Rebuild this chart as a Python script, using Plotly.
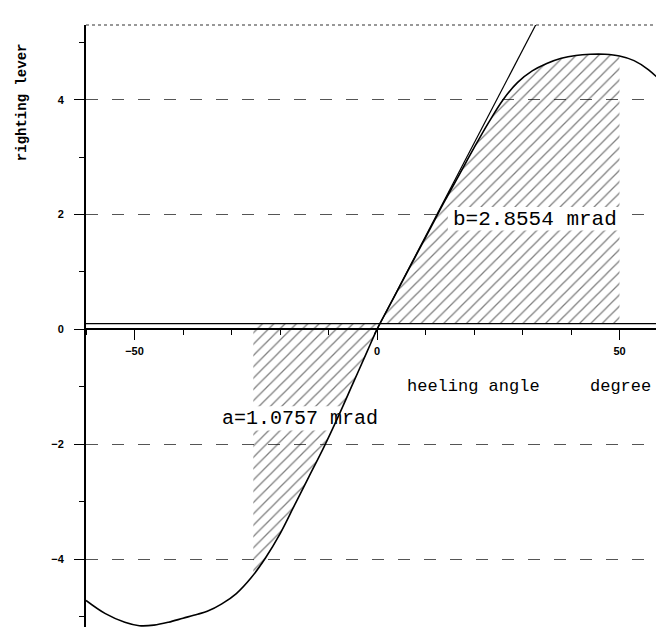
import numpy as np
import plotly.graph_objects as go

# ---- data ----
heel_angle = [-60, -56, -52, -49, -46, -43, -40, -37, -35, -32, -29, -26, -23, -20, -17, -14, -11, -8, -5, -2,
              0, 2, 5, 8, 11, 14, 17, 20, 23, 26, 29, 32, 35, 38, 41, 44, 47, 50, 53, 56, 60]
righting_lever = [-4.72, -4.95, -5.10, -5.16, -5.15, -5.10, -5.03, -4.96, -4.91, -4.78, -4.60, -4.33, -3.98,
                  -3.56, -3.06, -2.56, -2.06, -1.52, -0.95, -0.38,
                  0.0, 0.32, 0.80, 1.28, 1.76, 2.24, 2.70, 3.16, 3.60, 4.00, 4.30, 4.50, 4.63, 4.72, 4.77,
                  4.79, 4.79, 4.76, 4.68, 4.52, 4.20]
heeling_lever = 0.1          # constant heeling lever
roll_back_angle = -25.5      # left limit of area a
area_b_limit = 50            # right limit of area b
tangent_slope = 0.162        # slope of the initial tangent (per degree)
label_a = "a=1.0757 mrad"
label_b = "b=2.8554 mrad"
x_ticks = [-50, 0, 50]
y_ticks = [-4, -2, 0, 2, 4]

ang = np.array(heel_angle, float)
gz = np.array(righting_lever, float)

# equilibrium angle (curve crosses heeling lever)
mid = (ang > -15) & (ang < 15)
x_eq = float(np.interp(heeling_lever, gz[mid], ang[mid]))


def region(x0, x1):
    inside = (ang > x0) & (ang < x1)
    xs = [x0] + list(ang[inside]) + [x1]
    ys = [float(np.interp(x0, ang, gz))] + list(gz[inside]) + [float(np.interp(x1, ang, gz))]
    return xs, ys


fig = go.Figure()
pattern = dict(shape="/", fgcolor="black", bgcolor="rgba(0,0,0,0)", size=8, solidity=0.16, fillmode="overlay")

# area a
xa, ya = region(roll_back_angle, x_eq)
fig.add_trace(go.Scatter(x=xa + [x_eq, roll_back_angle], y=ya + [heeling_lever, heeling_lever],
                         fill="toself", fillcolor="rgba(0,0,0,0)", fillpattern=pattern,
                         mode="lines", line=dict(width=0), hoverinfo="skip", showlegend=False))
# area b
xb, yb = region(x_eq, area_b_limit)
fig.add_trace(go.Scatter(x=xb + [area_b_limit, x_eq], y=yb + [heeling_lever, heeling_lever],
                         fill="toself", fillcolor="rgba(0,0,0,0)", fillpattern=pattern,
                         mode="lines", line=dict(width=0), hoverinfo="skip", showlegend=False))


# white boxes behind the labels (hatching cleared)
def white_box(x0, x1, y0, y1):
    fig.add_trace(go.Scatter(x=[x0, x1, x1, x0, x0], y=[y0, y0, y1, y1, y0], fill="toself",
                             fillcolor="white", mode="lines", line=dict(width=0),
                             hoverinfo="skip", showlegend=False))


white_box(14.6, 51, 1.72, 2.13)
white_box(-27, -1.0, -1.34, -1.76)

# heeling lever line
fig.add_trace(go.Scatter(x=[-60, 60], y=[heeling_lever, heeling_lever], mode="lines",
                         line=dict(color="black", width=1.3), hoverinfo="skip", showlegend=False))
# tangent at origin
fig.add_trace(go.Scatter(x=[-0.5, 36], y=[-0.5 * tangent_slope, 36 * tangent_slope], mode="lines",
                         line=dict(color="black", width=1.2), hoverinfo="skip", showlegend=False))
# righting lever curve
fig.add_trace(go.Scatter(x=heel_angle, y=righting_lever, mode="lines", line_shape="spline",
                         line=dict(color="black", width=1.6), showlegend=False))

mono = "Liberation Mono, Courier New, monospace"
ann = [
    dict(x=32.5, y=1.92, text=label_b, font=dict(family=mono, size=21, color="black")),
    dict(x=-15.8, y=-1.55, text=label_a, font=dict(family=mono, size=20, color="black")),
    dict(x=19.8, y=-1.0, text="heeling angle", font=dict(family=mono, size=17, color="black")),
    dict(x=50.3, y=-1.0, text="degree", font=dict(family=mono, size=17, color="black")),
]
for a in ann:
    fig.add_annotation(xref="x", yref="y", showarrow=False, **a)
fig.add_annotation(xref="paper", yref="paper", x=-0.11, y=0.872, xanchor="center", yanchor="middle",
                   text="righting lever", textangle=-90, showarrow=False,
                   font=dict(family=mono, size=14, color="black", weight="bold"))

ymin, ymax = -5.2, 5.3
tickfont = dict(family="Liberation Sans, Arial, sans-serif", size=11, color="black", weight="bold")
fig.update_layout(
    width=664, height=627, margin=dict(l=78, r=4, t=17, b=7),
    paper_bgcolor="white", plot_bgcolor="white",
    xaxis=dict(range=[-60, 60], tickmode="array", tickvals=x_ticks, ticks="outside", ticklen=10,
               tickwidth=1.2, tickcolor="black", showline=True, linecolor="black", linewidth=1.6,
               showgrid=False, zeroline=False, anchor="free", position=(0 - ymin) / (ymax - ymin),
               minor=dict(dtick=10, tick0=0, ticks="outside", ticklen=5, tickcolor="black"),
               tickfont=tickfont, ticklabelstandoff=2),
    yaxis=dict(range=[ymin, ymax], tickmode="array", tickvals=y_ticks, ticks="outside", ticklen=10,
               tickwidth=1.2, tickcolor="black", showline=True, linecolor="black", linewidth=2,
               showgrid=True, gridcolor="#555555", griddash="12px,14px", gridwidth=1,
               zeroline=False, minor=dict(dtick=1, tick0=0, ticks="outside", ticklen=5, tickcolor="black"),
               tickfont=tickfont, ticklabelstandoff=8),
    shapes=[
        dict(type="line", xref="paper", yref="paper", x0=0, x1=1, y0=1, y1=1,
             line=dict(color="#333333", width=1.2, dash="dot")),
        dict(type="line", xref="paper", yref="paper", x0=0, x1=0.5, y0=0, y1=0,
             line=dict(color="#333333", width=1.2, dash="dot")),
    ],
)

fig.write_html("out.html")
